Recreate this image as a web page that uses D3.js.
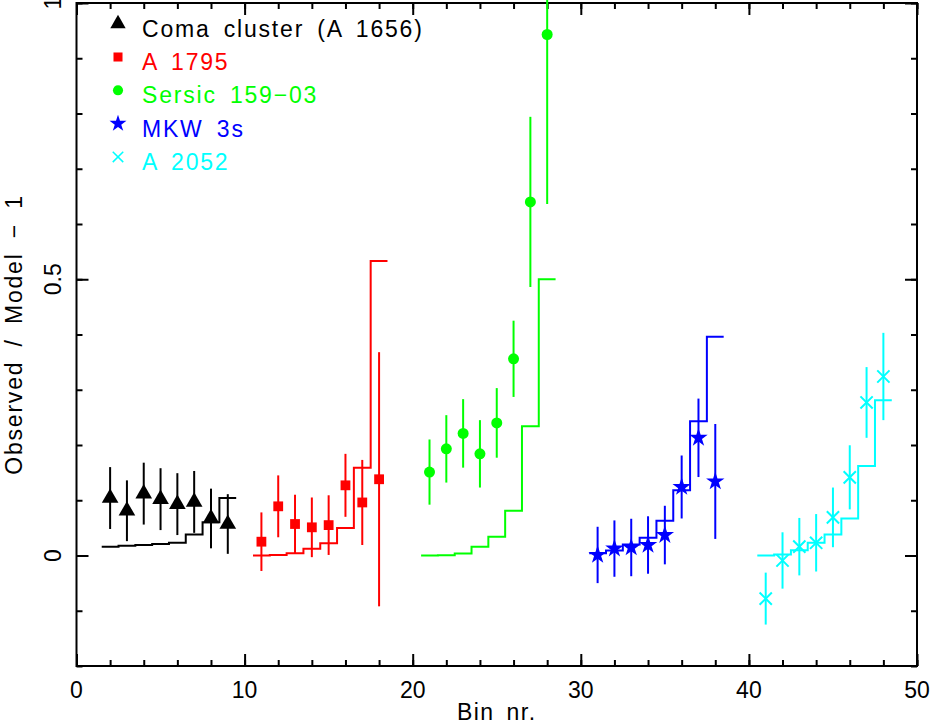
<!DOCTYPE html>
<html>
<head>
<meta charset="utf-8">
<script src="https://cdn.jsdelivr.net/npm/d3@7"></script>
<style>
body { margin: 0; background: #fff; }
svg text { font-family: "Liberation Sans", Arial, sans-serif; }
</style>
</head>
<body>
<div id="chart"></div>
<script>
// Coma cluster (A 1656)
var comaBins  = [2, 3, 4, 5, 6, 7, 8, 9]
var comaObs   = [0.104, 0.081, 0.112, 0.102, 0.093, 0.097, 0.067, 0.057]
var comaErr   = [0.056, 0.055, 0.056, 0.056, 0.056, 0.056, 0.054, 0.054]
var comaModel = [0.016, 0.0175, 0.019, 0.021, 0.023, 0.038, 0.060, 0.104]

// A 1795
var a1795Bins  = [11, 12, 13, 14, 15, 16, 17, 18]
var a1795Obs   = [0.025, 0.089, 0.057, 0.051, 0.055, 0.127, 0.096, 0.138]
var a1795Err   = [0.053, 0.056, 0.053, 0.054, 0.054, 0.057, 0.077, 0.230]
var a1795Model = [0.0, 0.001, 0.004, 0.012, 0.022, 0.050, 0.159, 0.533]

// Sersic 159-03
var sersicBins  = [21, 22, 23, 24, 25, 26, 27, 28]
var sersicObs   = [0.151, 0.193, 0.221, 0.184, 0.240, 0.356, 0.640, 0.943]
var sersicErr   = [0.059, 0.061, 0.062, 0.061, 0.063, 0.069, 0.154, 0.307]
var sersicModel = [0.0, 0.0005, 0.0036, 0.016, 0.034, 0.081, 0.234, 0.5]

// MKW 3s
var mkwBins  = [31, 32, 33, 34, 35, 36, 37, 38]
var mkwObs   = [0.001, 0.0125, 0.0145, 0.019, 0.037, 0.124, 0.213, 0.134]
var mkwErr   = [0.051, 0.051, 0.052, 0.052, 0.053, 0.057, 0.071, 0.104]
var mkwModel = [0.004, 0.009, 0.020, 0.032, 0.063, 0.118, 0.243, 0.396]

// A 2052
var a2052Bins  = [41, 42, 43, 44, 45, 46, 47, 48]
var a2052Obs   = [-0.078, -0.009, 0.016, 0.023, 0.069, 0.1415, 0.277, 0.324]
var a2052Err   = [0.047, 0.051, 0.052, 0.052, 0.054, 0.058, 0.064, 0.079]
var a2052Model = [0.0, 0.002, 0.0096, 0.023, 0.038, 0.067, 0.162, 0.281]

// axis ticks
var xMajor = [0, 10, 20, 30, 40, 50]
var xMinor = d3.range(0, 50.01, 2)
var yMajor = [0, 0.5, 1]
var yMinor = d3.range(-0.2, 1.001, 0.1)

var width = 932
var height = 724
var plot = {left: 76.5, right: 917, top: 3, bottom: 666}

// diagonal cross symbol (pgplot marker 5)
var symbolCross = {
	draw: function(ctx, size) {
		var r = Math.sqrt(size) / 2
		ctx.moveTo(-r, -r); ctx.lineTo(r, r)
		ctx.moveTo(-r, r); ctx.lineTo(r, -r)
	}
}

var series = [
	{name: "Coma cluster (A 1656)", color: "#000000", type: d3.symbolTriangle, size: 120, fill: true,
	 bins: comaBins, obs: comaObs, err: comaErr, model: comaModel},
	{name: "A 1795", color: "#ff0000", type: d3.symbolSquare, size: 96, fill: true,
	 bins: a1795Bins, obs: a1795Obs, err: a1795Err, model: a1795Model},
	{name: "Sersic 159\u221203", color: "#00ff00", type: d3.symbolCircle, size: 95, fill: true,
	 bins: sersicBins, obs: sersicObs, err: sersicErr, model: sersicModel},
	{name: "MKW 3s", color: "#0000ff", type: d3.symbolStar, size: 105, fill: true,
	 bins: mkwBins, obs: mkwObs, err: mkwErr, model: mkwModel},
	{name: "A 2052", color: "#00ffff", type: symbolCross, size: 150, fill: false,
	 bins: a2052Bins, obs: a2052Obs, err: a2052Err, model: a2052Model}
]

var svg = d3.select("#chart")
			.append("svg")
			.attr("width", width)
			.attr("height", height)

var xScale = d3.scaleLinear().domain([0, 50]).range([plot.left, plot.right])
var yScale = d3.scaleLinear().domain([-0.2, 1]).range([plot.bottom, plot.top])

// ticks on all four sides, pointing inward
function tickAxis(axis, values, size) {
	return axis.tickValues(values).tickSize(size).tickFormat("")
}
svg.append("g").attr("transform", "translate(0," + plot.bottom + ")")
   .call(tickAxis(d3.axisBottom(xScale), xMinor, -6))
svg.append("g").attr("transform", "translate(0," + plot.bottom + ")")
   .call(tickAxis(d3.axisBottom(xScale), xMajor, -12))
svg.append("g").attr("transform", "translate(0," + plot.top + ")")
   .call(tickAxis(d3.axisTop(xScale), xMinor, -6))
svg.append("g").attr("transform", "translate(0," + plot.top + ")")
   .call(tickAxis(d3.axisTop(xScale), xMajor, -12))
svg.append("g").attr("transform", "translate(" + plot.left + ",0)")
   .call(tickAxis(d3.axisLeft(yScale), yMinor, -6))
svg.append("g").attr("transform", "translate(" + plot.left + ",0)")
   .call(tickAxis(d3.axisLeft(yScale), yMajor, -12))
svg.append("g").attr("transform", "translate(" + plot.right + ",0)")
   .call(tickAxis(d3.axisRight(yScale), yMinor, -6))
svg.append("g").attr("transform", "translate(" + plot.right + ",0)")
   .call(tickAxis(d3.axisRight(yScale), yMajor, -12))

svg.selectAll(".domain").remove()
svg.selectAll(".tick line").attr("stroke", "#000").attr("stroke-width", 2)

// frame
svg.append("rect")
   .attr("x", plot.left).attr("y", plot.top)
   .attr("width", plot.right - plot.left).attr("height", plot.bottom - plot.top)
   .attr("fill", "none").attr("stroke", "#000").attr("stroke-width", 2)

// tick labels
svg.selectAll(".xlabel")
   .data(xMajor)
   .enter()
   .append("text")
   .attr("x", d => xScale(d))
   .attr("y", plot.bottom + 32)
   .attr("text-anchor", "middle")
   .style("font-size", "23px")
   .text(d => d)

svg.selectAll(".ylabel")
   .data(yMajor)
   .enter()
   .append("text")
   .attr("transform", d => "translate(61," + yScale(d) + ") rotate(-90)")
   .attr("text-anchor", "middle")
   .style("font-size", "23px")
   .text(d => d)

// axis titles
svg.append("text")
   .attr("x", (plot.left + plot.right) / 2)
   .attr("y", 720)
   .attr("text-anchor", "middle")
   .style("font-size", "23px")
   .style("letter-spacing", "1.5px")
   .style("word-spacing", "4px")
   .text("Bin nr.")

svg.append("text")
   .attr("transform", "translate(22," + (plot.top + plot.bottom) / 2 + ") rotate(-90)")
   .attr("text-anchor", "middle")
   .style("font-size", "23px")
   .style("letter-spacing", "1.8px")
   .style("word-spacing", "6px")
   .text("Observed / Model \u2212 1")

var stepLine = d3.line()
				 .x(d => xScale(d[0]))
				 .y(d => yScale(d[1]))

series.forEach(function(s) {
	var g = svg.append("g")

	// model histogram
	var steps = []
	s.bins.forEach(function(b, i) {
		steps.push([b - 0.5, s.model[i]])
		steps.push([b + 0.5, s.model[i]])
	})
	g.append("path")
	 .attr("d", stepLine(steps))
	 .attr("fill", "none")
	 .attr("stroke", s.color)
	 .attr("stroke-width", 2)

	// error bars
	g.selectAll(".err")
	 .data(s.bins)
	 .enter()
	 .append("line")
	 .attr("x1", d => xScale(d))
	 .attr("x2", d => xScale(d))
	 .attr("y1", (d, i) => yScale(s.obs[i] - s.err[i]))
	 .attr("y2", (d, i) => yScale(s.obs[i] + s.err[i]))
	 .attr("stroke", s.color)
	 .attr("stroke-width", 2)

	// markers
	g.selectAll(".pt")
	 .data(s.bins)
	 .enter()
	 .append("path")
	 .attr("d", d3.symbol().type(s.type).size(s.size))
	 .attr("transform", (d, i) => "translate(" + xScale(d) + "," + yScale(s.obs[i]) + ")")
	 .attr("fill", s.fill ? s.color : "none")
	 .attr("stroke", s.fill ? "none" : s.color)
	 .attr("stroke-width", 2)
})

// legend
var legend = svg.selectAll(".legend")
				.data(series)
				.enter()
				.append("g")
				.attr("transform", (d, i) => "translate(0," + (36.7 + i * 33.3) + ")")

legend.append("path")
	  .attr("d", d => d3.symbol().type(d.type).size(d.type === symbolCross ? 110 : d.size * 0.85)())
	  .attr("transform", "translate(118,-13)")
	  .attr("fill", d => d.fill ? d.color : "none")
	  .attr("stroke", d => d.fill ? "none" : d.color)
	  .attr("stroke-width", 1.5)

legend.append("text")
	  .attr("x", 142)
	  .attr("y", 0)
	  .attr("fill", d => d.color)
	  .style("font-size", "23px")
	  .style("letter-spacing", "1.8px")
	  .style("word-spacing", "5px")
	  .text(d => d.name)
</script>
</body>
</html>
